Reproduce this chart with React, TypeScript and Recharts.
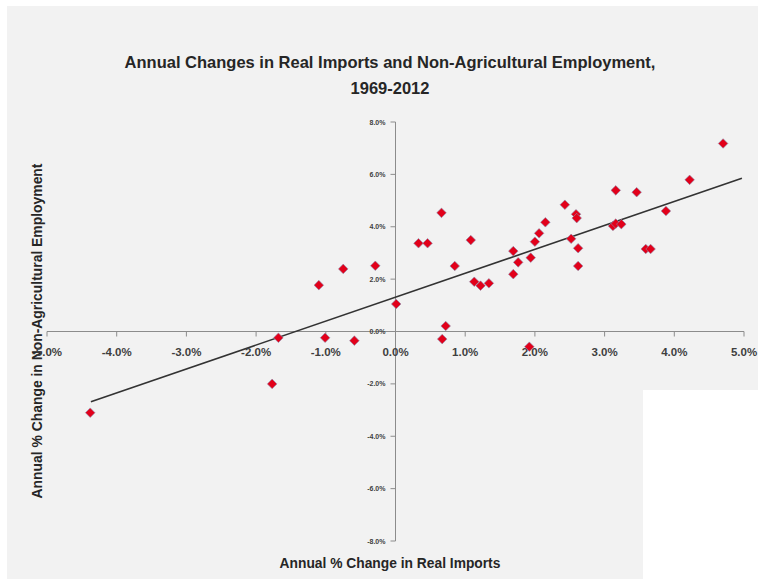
import React from 'react';
import { ScatterChart, Scatter, XAxis, YAxis, ReferenceLine, ReferenceDot } from 'recharts';

const importsChange = [
  -4.38, -1.77, -1.68, -1.10, -1.01, -0.75, -0.59, -0.29, 0.01, 0.33, 0.46,
  0.66, 0.67, 0.72, 0.85, 1.08, 1.13, 1.22, 1.34, 1.69, 1.69, 1.76, 1.92,
  1.94, 2.00, 2.06, 2.15, 2.43, 2.52, 2.59, 2.60, 2.62, 2.62, 3.12, 3.16,
  3.24, 3.16, 3.46, 3.59, 3.66, 3.88, 4.22, 4.70,
];
const employmentChange = [
  -3.10, -2.00, -0.24, 1.77, -0.24, 2.39, -0.35, 2.51, 1.05, 3.37, 3.37,
  4.53, -0.29, 0.21, 2.50, 3.49, 1.90, 1.75, 1.84, 3.07, 2.19, 2.64, -0.58,
  2.82, 3.43, 3.75, 4.17, 4.84, 3.54, 4.48, 4.33, 3.18, 2.50, 4.03, 4.12,
  4.10, 5.39, 5.32, 3.15, 3.15, 4.60, 5.79, 7.18,
];

// linear trend line end points
const trendX = [-4.37, 4.97];
const trendY = [-2.68, 5.85];

const xTicks = [-5, -4, -3, -2, -1, 0, 1, 2, 3, 4, 5];
const yTicks = [-8, -6, -4, -2, 0, 2, 4, 6, 8];

const points = importsChange.map((x, i) => ({ x, y: employmentChange[i] }));

const W = 765;
const H = 579;
const FONT = "'Liberation Sans', Arial, sans-serif";
const AXIS_GRAY = '#8c8c8c';
const LABEL = '#3f3f3f';

const pct = (v: number) => `${v.toFixed(1)}%`;

const Diamond = (props: any) => {
  const { cx, cy } = props;
  const s = 4.8;
  return (
    <path
      d={`M${cx},${cy - s}L${cx + s},${cy}L${cx},${cy + s}L${cx - s},${cy}Z`}
      fill="#e2001a"
      stroke="#8a8fb0"
      strokeWidth={0.6}
    />
  );
};

const XTick = (label: string) => (props: any) => {
  const { cx, cy } = props;
  return (
    <g>
      <line x1={cx} y1={cy} x2={cx} y2={cy + 5} stroke={AXIS_GRAY} strokeWidth={1} />
      <text x={cx} y={cy + 24} textAnchor="middle" fontSize={11.5} fontWeight="bold" fill={LABEL} fontFamily={FONT}>
        {label}
      </text>
    </g>
  );
};

const YTick = (label: string) => (props: any) => {
  const { cx, cy } = props;
  return (
    <g>
      <line x1={cx - 5} y1={cy} x2={cx} y2={cy} stroke={AXIS_GRAY} strokeWidth={1} />
      <text x={cx - 10} y={cy + 2.5} textAnchor="end" fontSize={7} fontWeight="bold" fill={LABEL} fontFamily={FONT}>
        {label}
      </text>
    </g>
  );
};

export default function App() {
  return (
    <div style={{ position: 'relative', width: W, height: H, background: '#ffffff', overflow: 'hidden' }}>
      <style>{'body{margin:0}'}</style>
      <div style={{ position: 'absolute', left: 7, top: 6, width: 751, height: H - 6, background: '#f2f2f2' }} />
      <div style={{ position: 'absolute', left: 643, top: 390, width: W - 643, height: H - 390, background: '#ffffff' }} />

      <div
        style={{
          position: 'absolute',
          left: 0,
          top: 49,
          width: 780,
          textAlign: 'center',
          fontFamily: FONT,
          fontWeight: 'bold',
          fontSize: 16.5,
          lineHeight: '26px',
          color: '#262626',
        }}
      >
        Annual Changes in Real Imports and Non-Agricultural Employment,
        <br />
        1969-2012
      </div>

      <div
        style={{
          position: 'absolute',
          left: 390,
          top: 563,
          transform: 'translate(-50%, -50%)',
          whiteSpace: 'nowrap',
          fontFamily: FONT,
          fontWeight: 'bold',
          fontSize: 13.8,
          color: '#262626',
        }}
      >
        Annual % Change in Real Imports
      </div>
      <div
        style={{
          position: 'absolute',
          left: 37,
          top: 331,
          transform: 'translate(-50%, -50%) rotate(-90deg)',
          whiteSpace: 'nowrap',
          fontFamily: FONT,
          fontWeight: 'bold',
          fontSize: 13.9,
          color: '#262626',
        }}
      >
        Annual % Change in Non-Agricultural Employment
      </div>

      <div style={{ position: 'absolute', left: 0, top: 0 }}>
        <ScatterChart width={W} height={H} margin={{ top: 122, right: 21, bottom: 38, left: 47 }}>
          <XAxis type="number" dataKey="x" domain={[-5, 5]} ticks={xTicks} hide />
          <YAxis type="number" dataKey="y" domain={[-8, 8]} ticks={yTicks} hide />
          <ReferenceLine x={0} stroke={AXIS_GRAY} strokeWidth={1} ifOverflow="visible" />
          <ReferenceLine y={0} stroke={AXIS_GRAY} strokeWidth={1} ifOverflow="visible" />
          {xTicks.map((t) => (
            <ReferenceDot key={`x${t}`} x={t} y={0} r={0} ifOverflow="visible" shape={XTick(pct(t))} />
          ))}
          {yTicks.map((t) => (
            <ReferenceDot key={`y${t}`} x={0} y={t} r={0} ifOverflow="visible" shape={YTick(pct(t))} />
          ))}
          <ReferenceLine
            segment={[
              { x: trendX[0], y: trendY[0] },
              { x: trendX[1], y: trendY[1] },
            ]}
            stroke="#333333"
            strokeWidth={1.6}
            ifOverflow="visible"
          />
          <Scatter data={points} shape={Diamond} isAnimationActive={false} />
        </ScatterChart>
      </div>
    </div>
  );
}
